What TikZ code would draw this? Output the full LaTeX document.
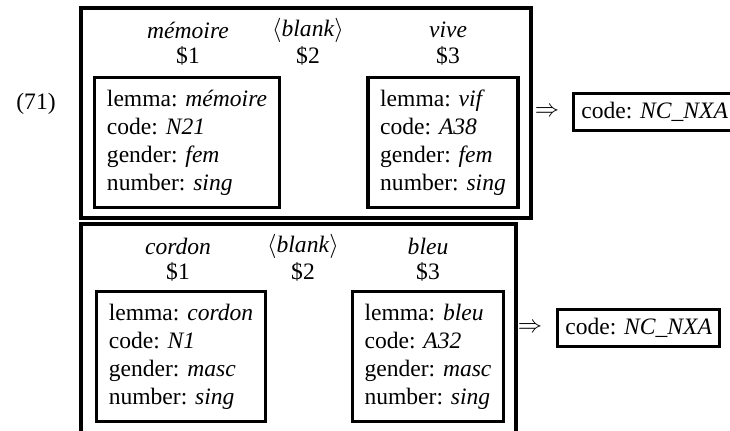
\documentclass[tikz,border=0pt]{standalone}
\usepackage{fontspec}
\setmainfont{Liberation Serif}
\usetikzlibrary{positioning}
\tikzstyle{featbox} = [draw, line width=1.4pt, rectangle, align=left, inner xsep=5.5pt, inner ysep=5.5pt, anchor=north]
\tikzstyle{result} = [draw, line width=1.4pt, rectangle, inner xsep=3.5pt, inner ysep=4pt, anchor=west]
\tikzstyle{word} = [inner sep=0pt]
\tikzstyle{ruleframe} = [draw, line width=1.4pt]
\newcommand{\featlist}[4]{lemma: \textit{#1}\\ code: \textit{#2}\\ gender: \textit{#3}\\ number: \textit{#4}}
\newcommand{\blanktok}{$\langle$\textit{blank}$\rangle$}

\begin{document}
\begin{tikzpicture}[x=0.45pt, y=-0.45pt, font=\fontsize{10.6}{12.6}\selectfont, node distance=11.7pt]

\useasboundingbox (0,0) rectangle (730,430);
\clip (0,0) rectangle (730,430);

\node [word] (exno) at (36,104) {(71)};

% first rule: memoire vive
\node [word] (w1) at (188,30) {\textit{mémoire}};
\node [word, below of=w1] (d1) {\$1};
\node [word] (w2) at (308,30) {\blanktok};
\node [word, below of=w2] (d2) {\$2};
\node [word] (w3) at (448,30) {\textit{vive}};
\node [word, below of=w3] (d3) {\$3};

\node [featbox] (f1) at (187,76) {\featlist{mémoire}{N21}{fem}{sing}};
\node [featbox] (f3) at (443,76) {\featlist{vif}{A38}{fem}{sing}};

\node [word] (imp1) at (547,112) {$\Rightarrow$};
\node [result] (r1) at (572,112) {code: \textit{NC\_NXA}};

\node [coordinate] (upperleft) at (81,8) {};
\node [coordinate] (lowerright) at (531,218) {};
\path [ruleframe] (upperleft) rectangle (lowerright);

% second rule: cordon bleu, its frame runs off the bottom
\node [word] (v1) at (178,246) {\textit{cordon}};
\node [word, below of=v1] (e1) {\$1};
\node [word] (v2) at (303,246) {\blanktok};
\node [word, below of=v2] (e2) {\$2};
\node [word] (v3) at (428,246) {\textit{bleu}};
\node [word, below of=v3] (e3) {\$3};

\node [featbox] (g1) at (181,290) {\featlist{cordon}{N1}{masc}{sing}};
\node [featbox] (g3) at (428,290) {\featlist{bleu}{A32}{masc}{sing}};

\node [word] (imp2) at (530,328) {$\Rightarrow$};
\node [result] (r2) at (556,328) {code: \textit{NC\_NXA}};

\node [coordinate] (upperleft2) at (81,224) {};
\node [coordinate] (lowerright2) at (516,450) {};
\path [ruleframe] (upperleft2) rectangle (lowerright2);

\end{tikzpicture}
\end{document}
